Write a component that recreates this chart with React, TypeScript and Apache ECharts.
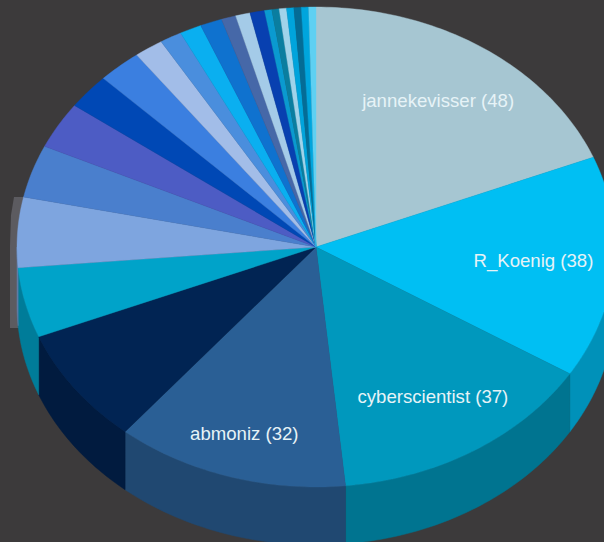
import React, { useEffect, useRef } from "react";
import * as echarts from "echarts";

const labels = ["jannekevisser", "R_Koenig", "cyberscientist", "abmoniz"];
const values = [48, 38, 37, 32, 20, 12, 12, 9, 8, 6, 6, 4, 3, 3, 3, 2, 2, 2, 1, 1, 1, 1, 1, 1, 1];
const topColors = [
  "#a6c6d2", "#00bff3", "#0098bd", "#2a5f95", "#012453", "#00a3c9", "#7ea5df", "#4a7fcd",
  "#4d5cc4", "#0048b5", "#3b7fe0", "#a2bde8", "#4a8edd", "#0aaff0", "#0f72cf", "#4668a8",
  "#a4cbe8", "#0840b0", "#0a9ad0", "#0a7ea0", "#a0d3ea", "#00a4dc", "#046c96", "#00a5dd", "#5fd0f2",
];

const CX = 316;
const CY = 247;
const RX = 299;
const RY = 240;
const DEPTH = 58;
const WALL_SHADE = 0.76;
const labelRadius = [0.73, 0.73, 0.74, 0.82];

const total = values.reduce((a, b) => a + b, 0);
const starts: number[] = [];
values.reduce((acc, v, i) => {
  starts[i] = acc;
  return acc + v;
}, 0);

const angle = (units: number) => (units / total) * Math.PI * 2;
const pt = (t: number, dy = 0, k = 1): number[] => [
  CX + RX * k * Math.sin(t),
  CY + dy - RY * k * Math.cos(t),
];
const arc = (a: number, b: number, dy = 0): number[][] => {
  const n = Math.max(2, Math.ceil(((b - a) * 180) / Math.PI));
  const out: number[][] = [];
  for (let i = 0; i <= n; i++) out.push(pt(a + ((b - a) * i) / n, dy));
  return out;
};
const shade = (hex: string, k: number) => {
  const n = parseInt(hex.slice(1), 16);
  const c = [(n >> 16) & 255, (n >> 8) & 255, n & 255].map((v) => Math.round(v * k));
  return `rgb(${c[0]},${c[1]},${c[2]})`;
};

const renderWall = (params: any) => {
  const i = params.dataIndex;
  const a = Math.max(angle(starts[i]), Math.PI / 2);
  const b = Math.min(angle(starts[i] + values[i]), (Math.PI * 3) / 2);
  if (b <= a) return { type: "group", children: [] };
  const fill = shade(topColors[i], WALL_SHADE);
  return {
    type: "polygon",
    shape: { points: [...arc(a, b), ...arc(a, b, DEPTH).reverse()] },
    style: { fill, stroke: fill, lineWidth: 0.5 },
  };
};

const renderTop = (params: any) => {
  const i = params.dataIndex;
  const a = angle(starts[i]);
  const b = angle(starts[i] + values[i]);
  return {
    type: "polygon",
    shape: { points: [[CX, CY], ...arc(a, b)] },
    style: { fill: topColors[i], stroke: topColors[i], lineWidth: 0.4 },
  };
};

const renderLabel = (params: any) => {
  const i = params.dataIndex;
  const mid = angle(starts[i] + values[i] / 2);
  const [x, y] = pt(mid, -1.5, labelRadius[i]);
  return {
    type: "text",
    x,
    y,
    style: {
      text: `${labels[i]} (${values[i]})`,
      fill: "#e6f3f7",
      fontFamily: "Liberation Sans",
      fontSize: 18.6,
      align: "center",
      verticalAlign: "middle",
    },
  };
};

export default function App() {
  const ref = useRef<HTMLDivElement>(null);
  useEffect(() => {
    const chart = echarts.init(ref.current!, null, { renderer: "svg" });
    chart.setOption({
      animation: false,
      backgroundColor: "#3c3a3b",
      graphic: [
        {
          type: "polygon",
          z: -1,
          shape: {
            points: [
              [14, 197], [24, 197], [24, 328], [10, 328], [10, 245], [11, 215],
            ],
          },
          style: { fill: "#5c5b60" },
        },
      ],
      series: [
        { type: "custom", coordinateSystem: "none", silent: true, clip: false, z: 2, data: values, renderItem: renderWall },
        { type: "custom", coordinateSystem: "none", silent: true, clip: false, z: 3, data: values, renderItem: renderTop },
        { type: "custom", coordinateSystem: "none", silent: true, clip: false, z: 4, data: values.slice(0, labels.length), renderItem: renderLabel },
      ],
    });
    return () => chart.dispose();
  }, []);
  return <div ref={ref} style={{ position: "fixed", left: 0, top: 0, width: 604, height: 542 }} />;
}
